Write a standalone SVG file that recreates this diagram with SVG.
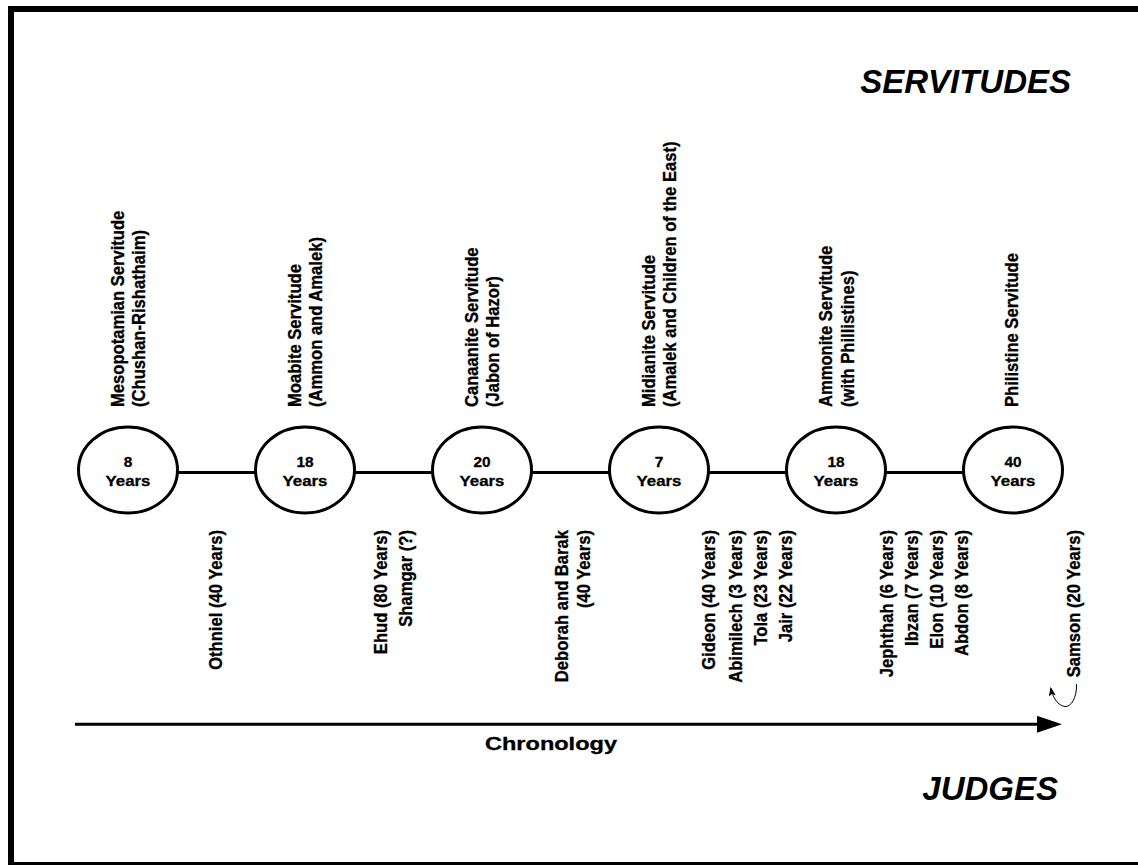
<svg xmlns="http://www.w3.org/2000/svg" width="1138" height="865" viewBox="0 0 1138 865">
<style>
.t{font-family:"Liberation Sans",Arial,sans-serif;font-weight:bold;fill:#000;stroke:#000;stroke-width:0.3px}
.r{font-size:16.6px}
.e{text-anchor:end}
.c{font-size:15.4px;text-anchor:middle}
.h{font-size:33px;font-style:italic;text-anchor:end;stroke-width:0}
.node{fill:#fff;stroke:#000;stroke-width:3}
.link{stroke:#000;stroke-width:3;fill:none}
</style>
<defs>
<marker id="bigArrow" markerUnits="userSpaceOnUse" markerWidth="26" markerHeight="18" refX="13" refY="8.5" orient="auto">
<path d="M0,0 L25,8.5 L0,17 z" fill="#000"/>
</marker>
<marker id="smallArrow" markerUnits="userSpaceOnUse" markerWidth="10" markerHeight="8" refX="8" refY="3.5" orient="auto">
<path d="M0,0 L9,3.5 L0,7 L2,3.5 z" fill="#000"/>
</marker>
</defs>
<rect x="0" y="0" width="1138" height="865" fill="#fff"/>
<rect id="frame" x="11" y="9" width="1140" height="856" fill="none" stroke="#000" stroke-width="6"/>

<text class="t h" x="1071" y="93">SERVITUDES</text>
<text class="t h" x="1058" y="800">JUDGES</text>

<g id="connectors">
<line class="link" x1="177.5" y1="472.5" x2="255.5" y2="472.5"/>
<line class="link" x1="354.5" y1="472.5" x2="432.5" y2="472.5"/>
<line class="link" x1="531.5" y1="472.5" x2="609.5" y2="472.5"/>
<line class="link" x1="708.5" y1="472.5" x2="786.5" y2="472.5"/>
<line class="link" x1="885.5" y1="472.5" x2="963.5" y2="472.5"/>
<line class="link" x1="75" y1="724.3" x2="1050" y2="724.3" marker-end="url(#bigArrow)"/>
<path d="M1076.5,684 C1077,698 1071,707 1065,706.5 C1058,706 1052.5,697 1050.8,688" fill="none" stroke="#000" stroke-width="1" marker-end="url(#smallArrow)"/>
</g>

<g id="servitude1">
<ellipse class="node" cx="128" cy="470" rx="49.5" ry="43"/>
<text class="t c" x="128" y="467">8</text>
<text class="t c" x="128" y="485.5" textLength="45" lengthAdjust="spacingAndGlyphs">Years</text>
<text class="t r" transform="translate(123.5,407) rotate(-90) scale(1,1.08)">Mesopotamian Servitude</text>
<text class="t r" transform="translate(145,407) rotate(-90) scale(1,1.08)">(Chushan-Rishathaim)</text>
</g>
<g id="servitude2">
<ellipse class="node" cx="305" cy="470" rx="49.5" ry="43"/>
<text class="t c" x="305" y="467">18</text>
<text class="t c" x="305" y="485.5" textLength="45" lengthAdjust="spacingAndGlyphs">Years</text>
<text class="t r" transform="translate(300.5,407) rotate(-90) scale(1,1.08)">Moabite Servitude</text>
<text class="t r" transform="translate(322,407) rotate(-90) scale(1,1.08)">(Ammon and Amalek)</text>
</g>
<g id="servitude3">
<ellipse class="node" cx="482" cy="470" rx="49.5" ry="43"/>
<text class="t c" x="482" y="467">20</text>
<text class="t c" x="482" y="485.5" textLength="45" lengthAdjust="spacingAndGlyphs">Years</text>
<text class="t r" transform="translate(477.5,407) rotate(-90) scale(1,1.08)">Canaanite Servitude</text>
<text class="t r" transform="translate(499,407) rotate(-90) scale(1,1.08)">(Jabon of Hazor)</text>
</g>
<g id="servitude4">
<ellipse class="node" cx="659" cy="470" rx="49.5" ry="43"/>
<text class="t c" x="659" y="467">7</text>
<text class="t c" x="659" y="485.5" textLength="45" lengthAdjust="spacingAndGlyphs">Years</text>
<text class="t r" transform="translate(654.5,407) rotate(-90) scale(1,1.08)">Midianite Servitude</text>
<text class="t r" transform="translate(676,407) rotate(-90) scale(1,1.08)">(Amalek and Children of the East)</text>
</g>
<g id="servitude5">
<ellipse class="node" cx="836" cy="470" rx="49.5" ry="43"/>
<text class="t c" x="836" y="467">18</text>
<text class="t c" x="836" y="485.5" textLength="45" lengthAdjust="spacingAndGlyphs">Years</text>
<text class="t r" transform="translate(831.5,407) rotate(-90) scale(1,1.08)">Ammonite Servitude</text>
<text class="t r" transform="translate(854,407) rotate(-90) scale(1,1.08)">(with Phillistines)</text>
</g>
<g id="servitude6">
<ellipse class="node" cx="1013" cy="470" rx="49.5" ry="43"/>
<text class="t c" x="1013" y="467">40</text>
<text class="t c" x="1013" y="485.5" textLength="45" lengthAdjust="spacingAndGlyphs">Years</text>
<text class="t r" transform="translate(1018,407) rotate(-90) scale(1,1.08)">Philistine Servitude</text>
</g>

<g id="judges1">
<text class="t r e" transform="translate(221.5,530) rotate(-90) scale(1,1.08)">Othniel (40 Years)</text>
</g>
<g id="judges2">
<text class="t r e" transform="translate(386.5,530) rotate(-90) scale(1,1.08)">Ehud (80 Years)</text>
<text class="t r e" transform="translate(411.5,530) rotate(-90) scale(1,1.08)">Shamgar (?)</text>
</g>
<g id="judges3">
<text class="t r e" transform="translate(568,530) rotate(-90) scale(1,1.08)">Deborah and Barak</text>
<text class="t r e" transform="translate(590,530) rotate(-90) scale(1,1.08)">(40 Years)</text>
</g>
<g id="judges4">
<text class="t r e" transform="translate(715,530) rotate(-90) scale(1,1.08)">Gideon (40 Years)</text>
<text class="t r e" transform="translate(741.5,530) rotate(-90) scale(1,1.08)">Abimilech (3 Years)</text>
<text class="t r e" transform="translate(766.5,530) rotate(-90) scale(1,1.08)">Tola (23 Years)</text>
<text class="t r e" transform="translate(791.5,530) rotate(-90) scale(1,1.08)">Jair (22 Years)</text>
</g>
<g id="judges5">
<text class="t r e" transform="translate(893,530) rotate(-90) scale(1,1.08)">Jephthah (6 Years)</text>
<text class="t r e" transform="translate(918,530) rotate(-90) scale(1,1.08)">Ibzan (7 Years)</text>
<text class="t r e" transform="translate(943,530) rotate(-90) scale(1,1.08)">Elon (10 Years)</text>
<text class="t r e" transform="translate(968,530) rotate(-90) scale(1,1.08)">Abdon (8 Years)</text>
</g>
<g id="judges6">
<text class="t r e" transform="translate(1080,530) rotate(-90) scale(1,1.08)">Samson (20 Years)</text>
</g>

<g id="chronology">
<text class="t" x="485" y="750" font-size="18" textLength="132" lengthAdjust="spacingAndGlyphs">Chronology</text>
</g>
</svg>
